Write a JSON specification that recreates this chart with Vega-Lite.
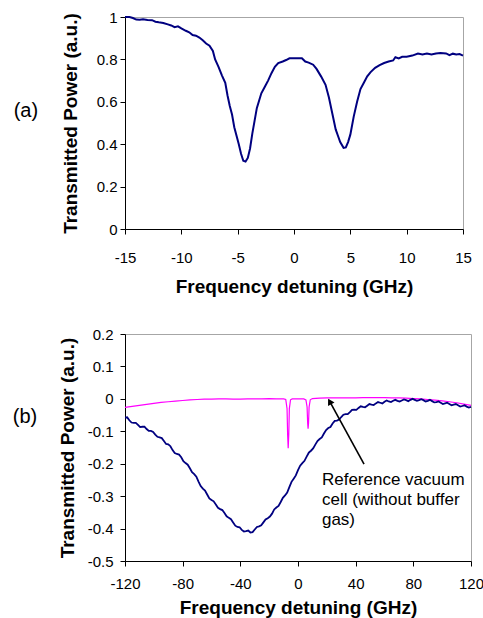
{
  "$schema": "https://vega.github.io/schema/vega-lite/v6.json",
  "padding": {"left": 12, "top": 9, "right": 5, "bottom": 0},
  "spacing": 29,
  "background": "white",
  "datasets": {
    "a": [
      {"x": -15, "y": 1.0}, {"x": -14.6, "y": 1.0}, {"x": -14.3, "y": 0.995}, {"x": -14.0, "y": 0.988}, {"x": -13.7, "y": 0.987}, {"x": -13.4, "y": 0.989}, {"x": -13.0, "y": 0.986}, {"x": -12.6, "y": 0.985}, {"x": -12.3, "y": 0.978}, {"x": -12.0, "y": 0.975}, {"x": -11.6, "y": 0.972}, {"x": -11.2, "y": 0.965}, {"x": -10.9, "y": 0.96}, {"x": -10.6, "y": 0.952}, {"x": -10.3, "y": 0.956}, {"x": -10.0, "y": 0.946}, {"x": -9.6, "y": 0.935}, {"x": -9.3, "y": 0.928}, {"x": -9.0, "y": 0.915}, {"x": -8.7, "y": 0.912}, {"x": -8.4, "y": 0.903}, {"x": -8.1, "y": 0.89}, {"x": -7.8, "y": 0.875}, {"x": -7.5, "y": 0.865}, {"x": -7.2, "y": 0.84}, {"x": -7.0, "y": 0.8}, {"x": -6.7, "y": 0.765}, {"x": -6.4, "y": 0.725}, {"x": -6.1, "y": 0.69}, {"x": -5.9, "y": 0.63}, {"x": -5.7, "y": 0.58}, {"x": -5.5, "y": 0.54}, {"x": -5.3, "y": 0.48}, {"x": -5.1, "y": 0.44}, {"x": -4.9, "y": 0.4}, {"x": -4.7, "y": 0.355}, {"x": -4.5, "y": 0.322}, {"x": -4.3, "y": 0.318}, {"x": -4.1, "y": 0.335}, {"x": -3.9, "y": 0.38}, {"x": -3.7, "y": 0.45}, {"x": -3.5, "y": 0.51}, {"x": -3.3, "y": 0.57}, {"x": -3.1, "y": 0.605}, {"x": -2.9, "y": 0.64}, {"x": -2.6, "y": 0.67}, {"x": -2.3, "y": 0.7}, {"x": -2.0, "y": 0.735}, {"x": -1.7, "y": 0.765}, {"x": -1.4, "y": 0.783}, {"x": -1.0, "y": 0.79}, {"x": -0.7, "y": 0.797}, {"x": -0.4, "y": 0.805}, {"x": 0.0, "y": 0.806}, {"x": 0.4, "y": 0.806}, {"x": 0.7, "y": 0.805}, {"x": 1.0, "y": 0.79}, {"x": 1.3, "y": 0.785}, {"x": 1.7, "y": 0.775}, {"x": 2.0, "y": 0.755}, {"x": 2.4, "y": 0.72}, {"x": 2.8, "y": 0.68}, {"x": 3.1, "y": 0.62}, {"x": 3.4, "y": 0.545}, {"x": 3.7, "y": 0.47}, {"x": 3.9, "y": 0.44}, {"x": 4.1, "y": 0.41}, {"x": 4.4, "y": 0.383}, {"x": 4.6, "y": 0.385}, {"x": 4.8, "y": 0.41}, {"x": 5.0, "y": 0.445}, {"x": 5.3, "y": 0.53}, {"x": 5.6, "y": 0.6}, {"x": 5.9, "y": 0.66}, {"x": 6.2, "y": 0.69}, {"x": 6.5, "y": 0.72}, {"x": 6.8, "y": 0.74}, {"x": 7.2, "y": 0.76}, {"x": 7.6, "y": 0.773}, {"x": 8.0, "y": 0.783}, {"x": 8.4, "y": 0.79}, {"x": 8.8, "y": 0.795}, {"x": 9.0, "y": 0.81}, {"x": 9.3, "y": 0.805}, {"x": 9.6, "y": 0.812}, {"x": 10.0, "y": 0.813}, {"x": 10.5, "y": 0.818}, {"x": 11.0, "y": 0.828}, {"x": 11.4, "y": 0.823}, {"x": 11.8, "y": 0.828}, {"x": 12.2, "y": 0.823}, {"x": 12.6, "y": 0.828}, {"x": 13.0, "y": 0.83}, {"x": 13.5, "y": 0.828}, {"x": 13.8, "y": 0.82}, {"x": 14.1, "y": 0.827}, {"x": 14.4, "y": 0.823}, {"x": 14.7, "y": 0.825}, {"x": 15.0, "y": 0.818}
    ],
    "bcell": [
      {"x": -120, "y": -0.058}, {"x": -118.5, "y": -0.057}, {"x": -117, "y": -0.066}, {"x": -115.5, "y": -0.073}, {"x": -114, "y": -0.074}, {"x": -112.5, "y": -0.074}, {"x": -111, "y": -0.08}, {"x": -109.5, "y": -0.087}, {"x": -108, "y": -0.086}, {"x": -106.5, "y": -0.086}, {"x": -105, "y": -0.093}, {"x": -103.5, "y": -0.099}, {"x": -102, "y": -0.099}, {"x": -100.5, "y": -0.102}, {"x": -99, "y": -0.11}, {"x": -97.5, "y": -0.117}, {"x": -96, "y": -0.119}, {"x": -94.5, "y": -0.121}, {"x": -93, "y": -0.13}, {"x": -91.5, "y": -0.139}, {"x": -90, "y": -0.14}, {"x": -88.5, "y": -0.146}, {"x": -87, "y": -0.158}, {"x": -85.5, "y": -0.167}, {"x": -84, "y": -0.17}, {"x": -82.5, "y": -0.172}, {"x": -81, "y": -0.18}, {"x": -79.5, "y": -0.192}, {"x": -78, "y": -0.198}, {"x": -76.5, "y": -0.203}, {"x": -75, "y": -0.214}, {"x": -73.5, "y": -0.226}, {"x": -72, "y": -0.232}, {"x": -70.5, "y": -0.24}, {"x": -69, "y": -0.255}, {"x": -67.5, "y": -0.269}, {"x": -66, "y": -0.277}, {"x": -64.5, "y": -0.283}, {"x": -63, "y": -0.295}, {"x": -61.5, "y": -0.307}, {"x": -60, "y": -0.312}, {"x": -58.5, "y": -0.316}, {"x": -57, "y": -0.326}, {"x": -55.5, "y": -0.336}, {"x": -54, "y": -0.34}, {"x": -52.5, "y": -0.343}, {"x": -51, "y": -0.352}, {"x": -49.5, "y": -0.362}, {"x": -48, "y": -0.367}, {"x": -46.5, "y": -0.371}, {"x": -45, "y": -0.381}, {"x": -43.5, "y": -0.391}, {"x": -42, "y": -0.395}, {"x": -40.5, "y": -0.396}, {"x": -39, "y": -0.404}, {"x": -37.5, "y": -0.409}, {"x": -36, "y": -0.408}, {"x": -34.5, "y": -0.406}, {"x": -33, "y": -0.412}, {"x": -31.5, "y": -0.411}, {"x": -30, "y": -0.403}, {"x": -28.5, "y": -0.395}, {"x": -27, "y": -0.393}, {"x": -25.5, "y": -0.39}, {"x": -24, "y": -0.381}, {"x": -22.5, "y": -0.372}, {"x": -21, "y": -0.368}, {"x": -19.5, "y": -0.363}, {"x": -18, "y": -0.354}, {"x": -16.5, "y": -0.341}, {"x": -15, "y": -0.335}, {"x": -13.5, "y": -0.33}, {"x": -12, "y": -0.318}, {"x": -10.5, "y": -0.305}, {"x": -9, "y": -0.298}, {"x": -7.5, "y": -0.289}, {"x": -6, "y": -0.272}, {"x": -4.5, "y": -0.256}, {"x": -3, "y": -0.246}, {"x": -1.5, "y": -0.236}, {"x": 0, "y": -0.22}, {"x": 1.5, "y": -0.206}, {"x": 3, "y": -0.198}, {"x": 4.5, "y": -0.191}, {"x": 6, "y": -0.178}, {"x": 7.5, "y": -0.166}, {"x": 9, "y": -0.16}, {"x": 10.5, "y": -0.153}, {"x": 12, "y": -0.141}, {"x": 13.5, "y": -0.13}, {"x": 15, "y": -0.124}, {"x": 16.5, "y": -0.119}, {"x": 18, "y": -0.107}, {"x": 19.5, "y": -0.096}, {"x": 21, "y": -0.09}, {"x": 22.5, "y": -0.087}, {"x": 24, "y": -0.076}, {"x": 25.5, "y": -0.068}, {"x": 27, "y": -0.067}, {"x": 28.5, "y": -0.064}, {"x": 30, "y": -0.056}, {"x": 31.5, "y": -0.049}, {"x": 33, "y": -0.047}, {"x": 34.5, "y": -0.047}, {"x": 36, "y": -0.041}, {"x": 37.5, "y": -0.034}, {"x": 39, "y": -0.033}, {"x": 40.5, "y": -0.034}, {"x": 42, "y": -0.028}, {"x": 43.5, "y": -0.023}, {"x": 45, "y": -0.025}, {"x": 46.5, "y": -0.026}, {"x": 48, "y": -0.021}, {"x": 49.5, "y": -0.016}, {"x": 51, "y": -0.018}, {"x": 52.5, "y": -0.019}, {"x": 54, "y": -0.014}, {"x": 55.5, "y": -0.01}, {"x": 57, "y": -0.012}, {"x": 58.5, "y": -0.014}, {"x": 60, "y": -0.009}, {"x": 61.5, "y": -0.005}, {"x": 63, "y": -0.008}, {"x": 64.5, "y": -0.01}, {"x": 66, "y": -0.006}, {"x": 67.5, "y": -0.003}, {"x": 69, "y": -0.006}, {"x": 70.5, "y": -0.008}, {"x": 72, "y": -0.005}, {"x": 73.5, "y": -0.002}, {"x": 75, "y": -0.004}, {"x": 76.5, "y": -0.007}, {"x": 78, "y": -0.003}, {"x": 79.5, "y": 0.0}, {"x": 81, "y": -0.003}, {"x": 82.5, "y": -0.006}, {"x": 84, "y": -0.004}, {"x": 85.5, "y": -0.001}, {"x": 87, "y": -0.004}, {"x": 88.5, "y": -0.008}, {"x": 90, "y": -0.006}, {"x": 91.5, "y": -0.003}, {"x": 93, "y": -0.007}, {"x": 94.5, "y": -0.011}, {"x": 96, "y": -0.01}, {"x": 97.5, "y": -0.008}, {"x": 99, "y": -0.012}, {"x": 100.5, "y": -0.016}, {"x": 102, "y": -0.014}, {"x": 103.5, "y": -0.012}, {"x": 105, "y": -0.016}, {"x": 106.5, "y": -0.02}, {"x": 108, "y": -0.018}, {"x": 109.5, "y": -0.016}, {"x": 111, "y": -0.02}, {"x": 112.5, "y": -0.024}, {"x": 114, "y": -0.022}, {"x": 115.5, "y": -0.02}, {"x": 117, "y": -0.024}, {"x": 118.5, "y": -0.027}, {"x": 120, "y": -0.025}
    ],
    "bref": [
      {"x": -120, "y": -0.026}, {"x": -115, "y": -0.023}, {"x": -110, "y": -0.02}, {"x": -105, "y": -0.017}, {"x": -100, "y": -0.014}, {"x": -95, "y": -0.011}, {"x": -90, "y": -0.009}, {"x": -85, "y": -0.007}, {"x": -80, "y": -0.005}, {"x": -75, "y": -0.003}, {"x": -70, "y": -0.002}, {"x": -65, "y": -0.001}, {"x": -60, "y": -0.001}, {"x": -55, "y": 0.0}, {"x": -50, "y": 0.0}, {"x": -45, "y": -0.001}, {"x": -40, "y": -0.001}, {"x": -35, "y": 0.0}, {"x": -30, "y": 0.0}, {"x": -25, "y": 0.0}, {"x": -20, "y": 0.001}, {"x": -15, "y": 0.0}, {"x": -10, "y": 0.0}, {"x": -8.5, "y": -0.002}, {"x": -7.6, "y": -0.03}, {"x": -7.2, "y": -0.11}, {"x": -6.8, "y": -0.152}, {"x": -6.4, "y": -0.11}, {"x": -6.0, "y": -0.03}, {"x": -5.2, "y": -0.003}, {"x": -4, "y": 0.0}, {"x": 0, "y": 0.0}, {"x": 4, "y": 0.0}, {"x": 5.5, "y": -0.003}, {"x": 6.3, "y": -0.025}, {"x": 6.7, "y": -0.075}, {"x": 7.0, "y": -0.092}, {"x": 7.3, "y": -0.075}, {"x": 7.7, "y": -0.025}, {"x": 8.5, "y": -0.003}, {"x": 10, "y": 0.001}, {"x": 15, "y": 0.002}, {"x": 20, "y": 0.003}, {"x": 25, "y": 0.003}, {"x": 30, "y": 0.003}, {"x": 35, "y": 0.003}, {"x": 40, "y": 0.003}, {"x": 45, "y": 0.004}, {"x": 50, "y": 0.004}, {"x": 55, "y": 0.004}, {"x": 60, "y": 0.004}, {"x": 65, "y": 0.003}, {"x": 70, "y": 0.003}, {"x": 75, "y": 0.002}, {"x": 80, "y": 0.001}, {"x": 85, "y": 0.0}, {"x": 90, "y": -0.002}, {"x": 95, "y": -0.004}, {"x": 100, "y": -0.006}, {"x": 105, "y": -0.009}, {"x": 110, "y": -0.012}, {"x": 115, "y": -0.016}, {"x": 120, "y": -0.02}
    ]
  },
  "config": {
    "view": {"stroke": "#a6a6a6", "strokeWidth": 1},
    "axis": {
      "grid": false,
      "domainColor": "black",
      "tickColor": "black",
      "labelColor": "black",
      "titleColor": "black",
      "labelFont": "Liberation Sans",
      "titleFont": "Liberation Sans",
      "labelFontSize": 15,
      "titleFontSize": 19,
      "titleFontWeight": "bold",
      "tickSize": 5,
      "labelFlush": false,
      "labelOverlap": false
    },
    "text": {"font": "Liberation Sans", "color": "black"}
  },
  "vconcat": [
    {
      "width": 338,
      "height": 212,
      "encoding": {
        "x": {"field": "x", "type": "quantitative", "scale": {"domain": [-15, 15], "nice": false},
          "axis": {"title": "Frequency detuning (GHz)", "values": [-15, -10, -5, 0, 5, 10, 15], "labelPadding": 16, "titlePadding": 12, "labelOverlap": false,
            "labelExpr": "datum.value < 0 ? '-' + format(-datum.value, '~g') : format(datum.value, '~g')"}},
        "y": {"field": "y", "type": "quantitative", "scale": {"domain": [0, 1], "nice": false},
          "axis": {"title": "Transmitted Power (a.u.)", "values": [0, 0.2, 0.4, 0.6, 0.8, 1], "labelPadding": 3, "titlePadding": 16, "labelOverlap": false,
            "labelExpr": "format(datum.value, '~g')"}}
      },
      "layer": [
        {
          "data": {"name": "a"},
          "mark": {"type": "line", "color": "#000080", "strokeWidth": 2}
        },
        {
          "data": {"values": [{"x": -23.8, "y": 0.557, "t": "(a)"}]},
          "mark": {"type": "text", "fontSize": 20, "align": "center", "baseline": "middle"},
          "encoding": {"text": {"field": "t"}}
        }
      ]
    },
    {
      "width": 346,
      "height": 227,
      "encoding": {
        "x": {"field": "x", "type": "quantitative", "scale": {"domain": [-120, 120], "nice": false},
          "axis": {"title": "Frequency detuning (GHz)", "values": [-120, -80, -40, 0, 40, 80, 120], "labelPadding": 10, "titlePadding": 7, "labelOverlap": false,
            "labelExpr": "datum.value < 0 ? '-' + format(-datum.value, '~g') : format(datum.value, '~g')"}},
        "y": {"field": "y", "type": "quantitative", "scale": {"domain": [-0.5, 0.2], "nice": false},
          "axis": {"title": "Transmitted Power (a.u.)", "values": [-0.5, -0.4, -0.3, -0.2, -0.1, 0, 0.1, 0.2], "labelPadding": 7, "titlePadding": 10, "labelOverlap": false,
            "labelExpr": "datum.value < 0 ? '-' + format(-datum.value, '~g') : format(datum.value, '~g')"}}
      },
      "layer": [
        {
          "data": {"name": "bref"},
          "mark": {"type": "line", "color": "#ff00ff", "strokeWidth": 1.2}
        },
        {
          "data": {"name": "bcell"},
          "mark": {"type": "line", "color": "#000080", "strokeWidth": 1.8}
        },
        {
          "data": {"values": [{"x": 45.8, "y": -0.201, "x2": 21.5, "y2": -0.004}]},
          "mark": {"type": "rule", "color": "black", "strokeWidth": 1.6},
          "encoding": {
            "x2": {"field": "x2"},
            "y2": {"field": "y2"}
          }
        },
        {
          "data": {"values": [{"x": 22.0, "y": -0.008}]},
          "mark": {"type": "point", "shape": "triangle-up", "filled": true, "color": "black", "opacity": 1, "size": 55, "angle": 331}
        },
        {
          "data": {"values": [
            {"x": 16.6, "y": -0.25, "t": "Reference vacuum"},
            {"x": 16.6, "y": -0.312, "t": "cell (without buffer"},
            {"x": 16.6, "y": -0.374, "t": "gas)"}
          ]},
          "mark": {"type": "text", "fontSize": 17, "align": "left", "baseline": "middle"},
          "encoding": {"text": {"field": "t"}}
        },
        {
          "data": {"values": [{"x": -189.4, "y": -0.056, "t": "(b)"}]},
          "mark": {"type": "text", "fontSize": 20, "align": "center", "baseline": "middle"},
          "encoding": {"text": {"field": "t"}}
        }
      ]
    }
  ]
}
